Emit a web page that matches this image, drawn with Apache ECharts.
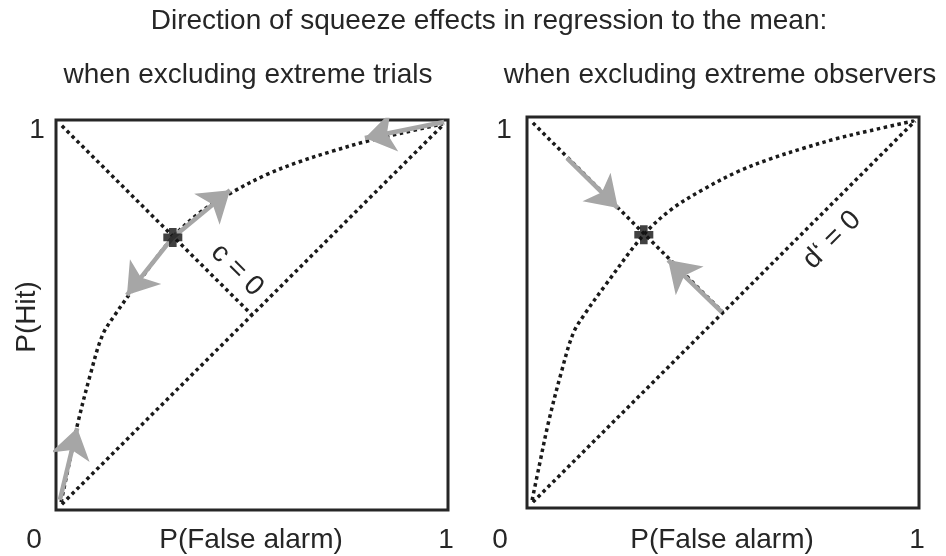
<!DOCTYPE html>
<html>
<head>
<meta charset="utf-8">
<title>Squeeze effects</title>
<script src="https://cdn.jsdelivr.net/npm/echarts@6/dist/echarts.min.js"></script>
<style>
  html, body { margin: 0; padding: 0; background: #fff; }
  #chart { width: 946px; height: 556px; }
</style>
</head>
<body>
<div id="chart"></div>
<script>
// ROC curve through the mean operating point (same in both panels)
const rocFA  = [0.013, 0.031, 0.055, 0.087, 0.118, 0.15, 0.2, 0.298, 0.37, 0.45, 0.537, 0.621, 0.705, 0.791, 0.875, 0.987];
const rocHit = [0.02, 0.107, 0.22, 0.345, 0.447, 0.5, 0.57, 0.699, 0.765, 0.815, 0.86, 0.893, 0.92, 0.945, 0.965, 0.99];

// chance line (d' = 0)
const chanceFA  = [0.015, 0.99];
const chanceHit = [0.015, 0.99];

// c = 0 line, from the top-left corner down to the chance line
const critFA  = [0.015, 0.5];
const critHit = [0.985, 0.5];

// mean operating point
const meanPoint = [0.298, 0.699];

// squeeze arrows: [fromFA, fromHit, toFA, toHit]
const trialArrows = [
  [0.298, 0.699, 0.444, 0.82],
  [0.298, 0.699, 0.181, 0.551],
  [0.99, 0.995, 0.788, 0.954],
  [0.01, 0.026, 0.054, 0.21]
];
const observerArrows = [
  [0.102, 0.895, 0.232, 0.767],
  [0.497, 0.501, 0.36, 0.634]
];

const tickLabels = ['0', '1'];

const chart = echarts.init(document.getElementById('chart'), null, { renderer: 'canvas' });

const FONT = '"Liberation Sans", Arial, sans-serif';
const INK = '#262626';
const dotted = { color: '#1a1a1a', width: 3.5, type: [3.5, 3.5], cap: 'butt', opacity: 1 };

const pairs = (xs, ys) => xs.map((x, i) => [x, ys[i]]);

function panelSeries(k, arrows) {
  return [
    {
      type: 'line', xAxisIndex: k, yAxisIndex: k, silent: true,
      data: pairs(chanceFA, chanceHit), symbol: 'none', lineStyle: dotted, z: 2
    },
    {
      type: 'line', xAxisIndex: k, yAxisIndex: k, silent: true,
      data: pairs(critFA, critHit), symbol: 'none', lineStyle: dotted, z: 2
    },
    {
      type: 'line', xAxisIndex: k, yAxisIndex: k, silent: true,
      data: pairs(rocFA, rocHit), symbol: 'none', smooth: 0.35, lineStyle: dotted, z: 2
    },
    {
      type: 'lines', coordinateSystem: 'cartesian2d', xAxisIndex: k, yAxisIndex: k, silent: true,
      symbol: ['none', 'arrow'], symbolSize: 30,
      lineStyle: { color: '#a6a6a6', width: 4.5, opacity: 1, curveness: 0 },
      data: arrows.map(a => ({ coords: [[a[0], a[1]], [a[2], a[3]]] })),
      z: 3
    },
    {
      type: 'scatter', xAxisIndex: k, yAxisIndex: k, silent: true,
      data: [meanPoint],
      symbol: 'path://M3,0H7V3H10V7H7V10H3V7H0V3H3Z', symbolSize: 19,
      itemStyle: { color: '#111' }, z: 5
    }
  ];
}

function txt(text, x, y, rotation) {
  return {
    type: 'text', x: x, y: y, rotation: rotation || 0, silent: true,
    style: { text: text, font: '28px ' + FONT, fill: INK, align: 'center', verticalAlign: 'middle' }
  };
}

const grids = [
  { left: 56, top: 120, width: 392, height: 390 },
  { left: 527, top: 117, width: 392, height: 391 }
];

const option = {
  animation: false,
  backgroundColor: '#fff',
  grid: grids.map(g => Object.assign({
    show: true, borderColor: INK, borderWidth: 3, backgroundColor: 'transparent', containLabel: false
  }, g)),
  xAxis: [0, 1].map(k => ({ gridIndex: k, type: 'value', min: 0, max: 1, show: false })),
  yAxis: [0, 1].map(k => ({ gridIndex: k, type: 'value', min: 0, max: 1, show: false })),
  series: panelSeries(0, trialArrows).concat(panelSeries(1, observerArrows)),
  graphic: [
    txt('Direction of squeeze effects in regression to the mean:', 489, 21),
    txt('when excluding extreme trials', 248, 75),
    txt('when excluding extreme observers', 720, 75),
    // left panel
    txt(tickLabels[1], 37, 130),
    txt(tickLabels[0], 34, 540),
    txt(tickLabels[1], 446, 540),
    txt('P(False alarm)', 251, 540),
    txt('P(Hit)', 27, 317, Math.PI / 2),
    txt('c = 0', 237, 270, -Math.PI / 4),
    // right panel
    txt(tickLabels[1], 504, 130),
    txt(tickLabels[0], 500, 540),
    txt(tickLabels[1], 917, 540),
    txt('P(False alarm)', 722, 540),
    txt('d\u2018 = 0', 832, 240, Math.PI / 4)
  ]
};

chart.setOption(option);
</script>
</body>
</html>
